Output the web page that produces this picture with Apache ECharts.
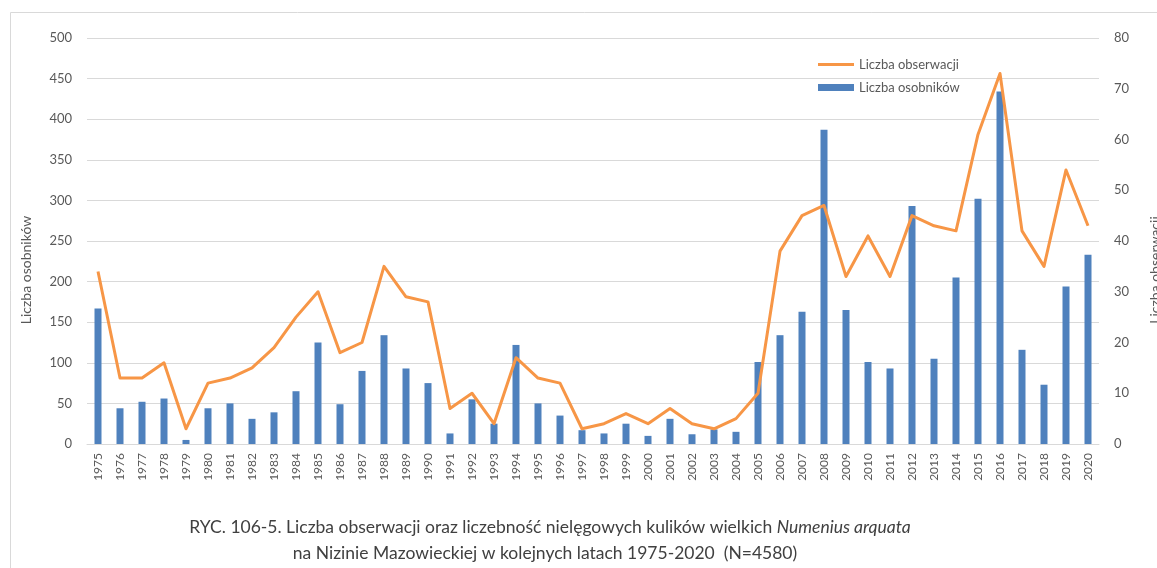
<!DOCTYPE html>
<html>
<head>
<meta charset="utf-8">
<script src="https://cdn.jsdelivr.net/npm/echarts@6/dist/echarts.min.js"></script>
<style>
html,body{margin:0;padding:0;background:#fff;}
#chart{width:1157px;height:568px;}
</style>
</head>
<body>
<div id="chart"></div>
<script>
const years = ['1975','1976','1977','1978','1979','1980','1981','1982','1983','1984','1985','1986','1987','1988','1989','1990','1991','1992','1993','1994','1995','1996','1997','1998','1999','2000','2001','2002','2003','2004','2005','2006','2007','2008','2009','2010','2011','2012','2013','2014','2015','2016','2017','2018','2019','2020'];
const osobnikow = [167,44,52,56,5,44,50,31,39,65,125,49,90,134,93,75,13,55,25,122,50,35,17,13,25,10,31,12,18,15,101,134,163,387,165,101,93,293,105,205,302,434,116,73,194,233];
const obserwacji = [34,13,13,16,3,12,13,15,19,25,30,18,20,35,29,28,7,10,4,17,13,12,3,4,6,4,7,4,3,5,10,38,45,47,33,41,33,45,43,42,61,73,42,35,54,43];
const leftTicks = {min:0, max:500, interval:50};
const rightTicks = {min:0, max:80, interval:10};

const FONT = 'Lato, "Open Sans", sans-serif';
const GREY = '#595959';
const chart = echarts.init(document.getElementById('chart'), null, {renderer:'canvas'});
chart.setOption({
  animation:false,
  textStyle:{fontFamily:FONT},
  grid:{left:87, right:58, top:38, bottom:124},
  legend:{
    orient:'vertical', left:813, top:53, itemGap:10, itemWidth:36, itemHeight:7,
    textStyle:{color:GREY, fontSize:13, fontFamily:FONT},
    data:[{name:'Liczba obserwacji', icon:'path://M0,0 L36,0 L36,3 L0,3 Z'},{name:'Liczba osobników', icon:'rect'}]
  },
  xAxis:{
    type:'category', data:years, boundaryGap:true,
    axisLine:{lineStyle:{color:'#d9d9d9'}}, axisTick:{show:false},
    axisLabel:{rotate:90, color:GREY, fontSize:12, margin:9, interval:0, fontFamily:FONT}
  },
  yAxis:[
    {type:'value', min:leftTicks.min, max:leftTicks.max, interval:leftTicks.interval,
     axisLine:{show:false}, axisTick:{show:false},
     axisLabel:{color:GREY, fontSize:13, margin:15, fontFamily:FONT},
     splitLine:{lineStyle:{color:'#d9d9d9', width:1}}},
    {type:'value', min:rightTicks.min, max:rightTicks.max, interval:rightTicks.interval,
     axisLine:{show:false}, axisTick:{show:false},
     axisLabel:{color:GREY, fontSize:13, margin:15, fontFamily:FONT},
     splitLine:{show:false}}
  ],
  series:[
    {name:'Liczba osobników', type:'bar', yAxisIndex:0, data:osobnikow, barWidth:7,
     itemStyle:{color:'#4F81BD'}},
    {name:'Liczba obserwacji', type:'line', yAxisIndex:1, data:obserwacji,
     symbol:'none', lineStyle:{color:'#F79646', width:3, join:'round'}, itemStyle:{color:'#F79646'}}
  ],
  graphic:[
    {type:'rect', left:8, top:10, shape:{width:1300, height:700}, style:{fill:'none', stroke:'#d9d9d9', lineWidth:1}, silent:true},
    {type:'text', x:26, y:270, rotation:Math.PI/2, style:{text:'Liczba osobników', fill:GREY, font:'14px '+FONT, align:'center', verticalAlign:'middle'}},
    {type:'text', x:1155, y:270, rotation:Math.PI/2, style:{text:'Liczba obserwacji', fill:GREY, font:'14px '+FONT, align:'center', verticalAlign:'middle'}},
    {type:'text', x:550, y:527, style:{
      text:'{n|RYC. 106-5. Liczba obserwacji oraz liczebność nielęgowych kulików wielkich }{i|Numenius arquata}',
      align:'center', verticalAlign:'middle',
      rich:{n:{fill:'#404040', font:'17.5px '+FONT}, i:{fill:'#404040', font:'italic 17.5px '+FONT}}}},
    {type:'text', x:545, y:553, style:{text:'na Nizinie Mazowieckiej w kolejnych latach 1975-2020  (N=4580)', fill:'#404040', font:'17.5px '+FONT, align:'center', verticalAlign:'middle'}}
  ]
});
</script>
</body>
</html>
